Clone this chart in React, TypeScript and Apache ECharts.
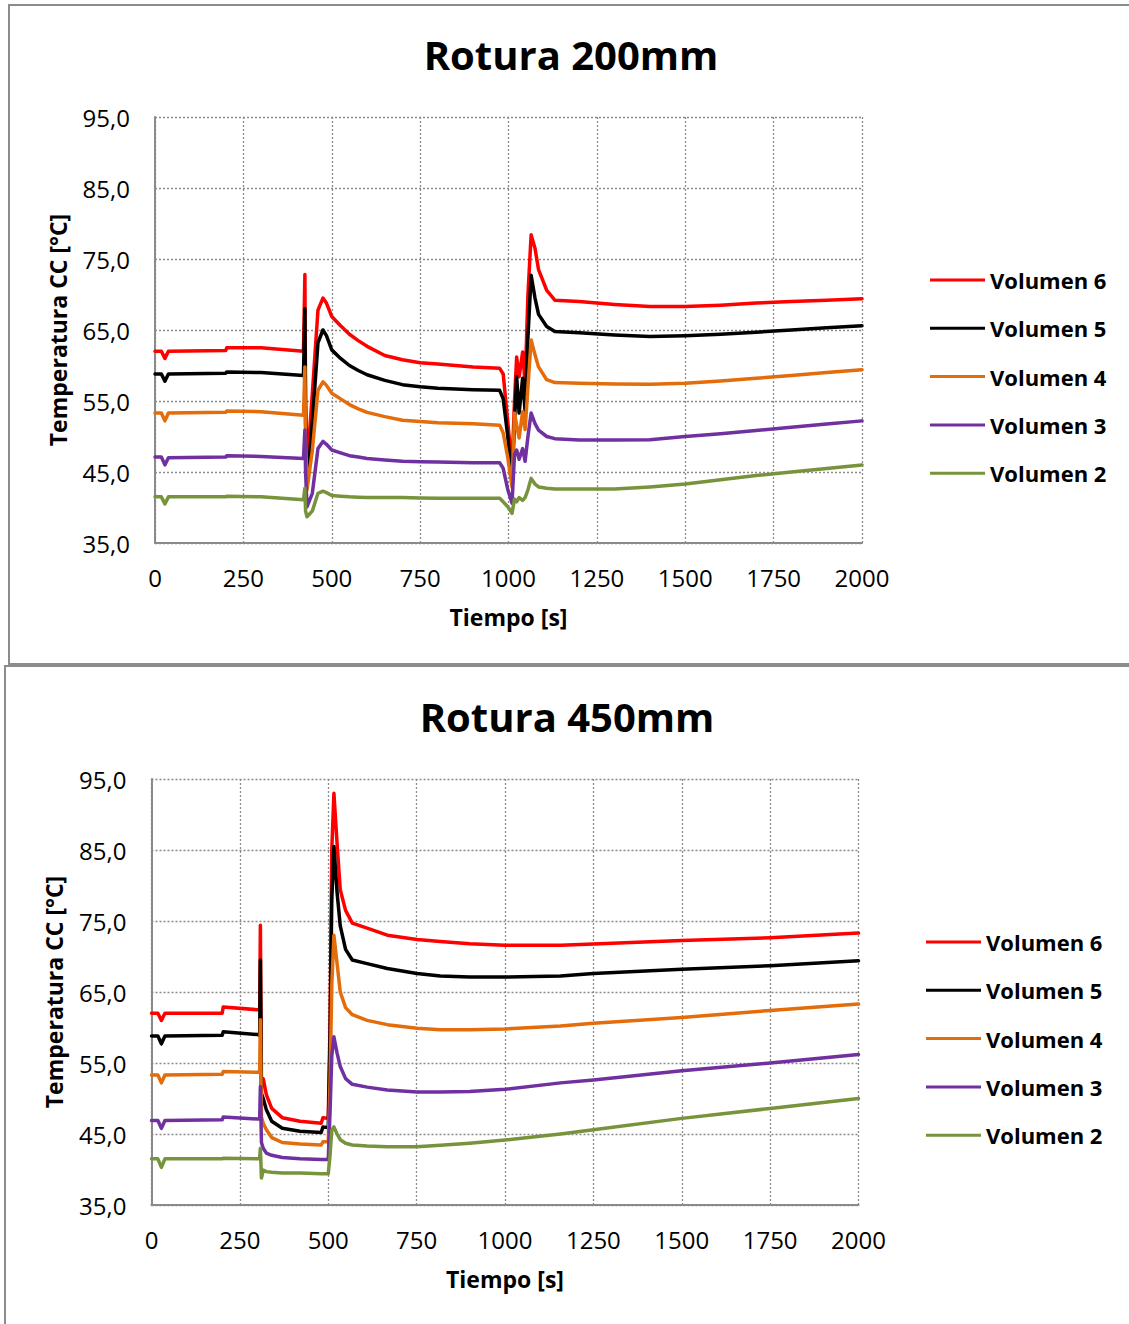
import React, { useEffect, useRef } from "react";
import * as echarts from "echarts";

// ---------- Data: Rotura 200mm ----------
const T200 = [0, 18, 28, 38, 200, 203, 300, 420, 424, 426, 430, 445, 461, 475, 485, 500, 525, 550, 575, 600, 650, 700, 750, 800, 900, 975, 985, 998, 1010, 1017, 1023, 1030, 1040, 1047, 1055, 1064, 1075, 1085, 1108, 1131, 1200, 1300, 1400, 1500, 1600, 1700, 1800, 1900, 2000];
const V6_200 = [62.0, 62.0, 61.0, 62.0, 62.1, 62.5, 62.5, 62.0, 72.8, 55.0, 45.5, 56.0, 67.8, 69.5, 68.8, 66.9, 65.6, 64.4, 63.5, 62.7, 61.4, 60.8, 60.4, 60.2, 59.8, 59.6, 58.8, 52.0, 45.7, 55.0, 61.2, 58.4, 61.9, 57.5, 70.0, 78.4, 76.5, 73.5, 70.6, 69.2, 69.0, 68.6, 68.3, 68.3, 68.5, 68.8, 69.0, 69.2, 69.4];
const V5_200 = [58.8, 58.8, 57.8, 58.8, 58.9, 59.1, 59.0, 58.6, 68.0, 52.0, 43.0, 52.0, 63.2, 65.0, 64.2, 62.2, 61.0, 60.0, 59.3, 58.7, 57.9, 57.3, 57.0, 56.8, 56.6, 56.5, 55.3, 50.0, 43.5, 52.0, 58.4, 53.3, 58.2, 53.5, 64.0, 72.7, 69.5, 67.2, 65.5, 64.8, 64.6, 64.3, 64.1, 64.2, 64.4, 64.7, 65.0, 65.3, 65.6];
const V4_200 = [53.3, 53.3, 52.2, 53.3, 53.4, 53.6, 53.5, 53.0, 59.8, 50.0, 42.5, 48.0, 56.5, 57.7, 57.2, 56.1, 55.3, 54.5, 53.9, 53.4, 52.8, 52.3, 52.1, 51.95, 51.8, 51.6, 50.5, 47.0, 42.9, 53.3, 51.6, 49.8, 53.5, 51.0, 57.0, 63.6, 61.5, 59.8, 58.0, 57.6, 57.5, 57.4, 57.35, 57.5, 57.8, 58.2, 58.6, 59.0, 59.4];
const V3_200 = [47.1, 47.1, 46.0, 47.0, 47.1, 47.3, 47.2, 46.9, 50.9, 45.0, 40.1, 42.0, 48.3, 49.3, 48.9, 48.1, 47.7, 47.3, 47.1, 46.9, 46.7, 46.5, 46.45, 46.4, 46.3, 46.3, 45.5, 42.5, 40.6, 47.5, 48.1, 46.8, 48.3, 46.5, 50.0, 53.3, 51.8, 50.9, 50.0, 49.7, 49.5, 49.5, 49.55, 50.0, 50.4, 50.85, 51.3, 51.75, 52.2];
const V2_200 = [41.5, 41.5, 40.5, 41.5, 41.5, 41.6, 41.5, 41.1, 42.7, 39.5, 38.7, 39.5, 42.0, 42.3, 42.1, 41.7, 41.6, 41.5, 41.45, 41.4, 41.4, 41.4, 41.35, 41.3, 41.3, 41.3, 40.8, 40.1, 39.2, 41.2, 40.8, 41.4, 41.0, 41.4, 42.5, 44.1, 43.3, 42.9, 42.7, 42.6, 42.6, 42.6, 42.9, 43.3, 43.9, 44.5, 45.0, 45.5, 46.0];

// ---------- Data: Rotura 450mm ----------
const T450 = [0, 18, 28, 38, 200, 203, 300, 306, 308, 311, 316, 325, 340, 370, 420, 480, 485, 500, 505, 510, 516, 525, 534, 549, 568, 610, 667, 751, 817, 900, 1000, 1157, 1250, 1500, 1750, 2000];
const V6_450 = [62.0, 62.0, 61.0, 62.0, 62.0, 62.9, 62.5, 62.5, 74.4, 52.0, 52.8, 50.5, 48.6, 47.3, 46.8, 46.5, 47.3, 47.2, 60.0, 85.0, 93.0, 85.9, 79.4, 76.5, 74.7, 74.0, 73.0, 72.4, 72.1, 71.8, 71.6, 71.6, 71.75, 72.25, 72.65, 73.3];
const V5_450 = [58.8, 58.8, 57.7, 58.8, 58.9, 59.4, 59.0, 58.9, 69.5, 50.7, 50.0, 48.4, 46.8, 45.8, 45.4, 45.2, 46.0, 45.9, 58.0, 78.0, 85.5, 79.0, 74.3, 71.0, 69.5, 69.0, 68.3, 67.6, 67.25, 67.1, 67.1, 67.25, 67.6, 68.2, 68.7, 69.4];
const V4_450 = [53.3, 53.3, 52.2, 53.3, 53.4, 53.8, 53.7, 53.7, 61.1, 47.4, 46.5, 45.6, 44.5, 43.8, 43.6, 43.45, 43.9, 43.9, 52.0, 66.0, 73.0, 69.0, 65.0, 62.8, 61.8, 61.0, 60.4, 59.9, 59.7, 59.7, 59.8, 60.2, 60.6, 61.4, 62.4, 63.3];
const V3_450 = [46.9, 46.9, 45.8, 46.9, 47.0, 47.4, 47.1, 47.1, 51.7, 43.8, 43.0, 42.3, 42.0, 41.7, 41.5, 41.4, 41.4, 41.4, 48.0, 56.0, 58.7, 56.4, 54.5, 52.8, 52.0, 51.6, 51.2, 50.9, 50.9, 51.0, 51.3, 52.2, 52.6, 53.9, 55.0, 56.2];
const V2_450 = [41.5, 41.5, 40.3, 41.5, 41.5, 41.6, 41.5, 41.5, 43.0, 38.8, 39.9, 39.7, 39.6, 39.5, 39.5, 39.4, 39.4, 39.4, 42.0, 45.5, 46.0, 45.0, 44.2, 43.7, 43.45, 43.3, 43.2, 43.2, 43.4, 43.7, 44.15, 45.0, 45.6, 47.2, 48.6, 50.0];

const SERIES_NAMES = ["Volumen 6", "Volumen 5", "Volumen 4", "Volumen 3", "Volumen 2"];
const SERIES_COLORS = ["#FF0000", "#000000", "#E46C0A", "#7030A0", "#77933C"];
const X_TICKS = [0, 250, 500, 750, 1000, 1250, 1500, 1750, 2000];
const Y_MIN = 35;
const Y_MAX = 95;

const FONT = "'Open Sans', 'DejaVu Sans', sans-serif";
const GRID_COLOR = "#8a8a8a";

type ChartCfg = {
  title: string;
  times: number[];
  values: number[][];
  top: number;
  height: number;
  grid: { left: number; top: number; width: number; height: number };
  titleX: number;
  titleY: number;
  legendLeft: number;
  legendTop: number;
};

function buildOption(cfg: ChartCfg): any {
  return {
    animation: false,
    backgroundColor: "transparent",
    textStyle: { fontFamily: FONT },
    title: {
      text: cfg.title,
      left: cfg.titleX,
      top: cfg.titleY,
      padding: 0,
      textAlign: "center",
      textVerticalAlign: "middle",
      textStyle: { fontFamily: FONT, fontSize: 40, fontWeight: "bold", color: "#000" },
    },
    legend: {
      orient: "vertical",
      left: cfg.legendLeft,
      top: cfg.legendTop,
      padding: 0,
      icon: "rect",
      itemWidth: 55,
      itemHeight: 3,
      itemGap: 24.3,
      data: SERIES_NAMES,
      textStyle: { fontFamily: FONT, fontSize: 22, fontWeight: "bold", color: "#000", lineHeight: 24 },
    },
    grid: { ...cfg.grid, containLabel: false },
    xAxis: {
      type: "value",
      min: X_TICKS[0],
      max: X_TICKS[X_TICKS.length - 1],
      interval: 250,
      name: "Tiempo [s]",
      nameLocation: "middle",
      nameGap: 62,
      nameTextStyle: { fontFamily: FONT, fontSize: 23, fontWeight: "bold", color: "#000" },
      axisLine: { show: true, lineStyle: { color: GRID_COLOR, width: 2 } },
      axisTick: { show: false },
      axisLabel: {
        fontFamily: FONT,
        fontSize: 24,
        color: "#000",
        margin: 22,
        formatter: (v: number) => String(v),
      },
      splitLine: { show: true, lineStyle: { color: GRID_COLOR, width: 1.3, type: [2, 2] } },
    },
    yAxis: {
      type: "value",
      min: Y_MIN,
      max: Y_MAX,
      interval: 10,
      name: "Temperatura CC [°C]",
      nameLocation: "middle",
      nameGap: 86,
      nameTextStyle: { fontFamily: FONT, fontSize: 23, fontWeight: "bold", color: "#000" },
      axisLine: { show: true, lineStyle: { color: GRID_COLOR, width: 2 } },
      axisTick: { show: false },
      axisLabel: {
        fontFamily: FONT,
        fontSize: 24,
        color: "#000",
        margin: 25,
        formatter: (v: number) => v.toFixed(1).replace(".", ","),
      },
      splitLine: { show: true, lineStyle: { color: GRID_COLOR, width: 1.3, type: [2, 2] } },
    },
    series: SERIES_NAMES.map((name, i) => ({
      name,
      type: "line",
      showSymbol: false,
      symbol: "none",
      color: SERIES_COLORS[i],
      lineStyle: { width: 3.5, color: SERIES_COLORS[i], join: "round", cap: "round" },
      data: cfg.times.map((t, k) => [t, cfg.values[i][k]]),
      z: 2 + i,
    })),
  };
}

function Chart({ cfg }: { cfg: ChartCfg }) {
  const ref = useRef<HTMLDivElement>(null);
  useEffect(() => {
    if (!ref.current) return;
    const chart = echarts.init(ref.current, null, { renderer: "svg" });
    chart.setOption(buildOption(cfg));
    return () => chart.dispose();
  }, [cfg]);
  return (
    <div
      ref={ref}
      style={{ position: "absolute", left: 0, top: cfg.top, width: 1129, height: cfg.height }}
    />
  );
}

const TOP_CFG: ChartCfg = {
  title: "Rotura 200mm",
  times: T200,
  values: [V6_200, V5_200, V4_200, V3_200, V2_200],
  top: 0,
  height: 665,
  grid: { left: 155, top: 117, width: 707, height: 426 },
  titleX: 571,
  titleY: 54,
  legendLeft: 930,
  legendTop: 268,
};

const BOTTOM_CFG: ChartCfg = {
  title: "Rotura 450mm",
  times: T450,
  values: [V6_450, V5_450, V4_450, V3_450, V2_450],
  top: 665,
  height: 659,
  grid: { left: 151.5, top: 114, width: 707, height: 426 },
  titleX: 567,
  titleY: 51,
  legendLeft: 926,
  legendTop: 265,
};

export default function App() {
  return (
    <div
      style={{
        position: "absolute",
        left: 0,
        top: 0,
        width: 1129,
        height: 1324,
        overflow: "hidden",
        background: "#fff",
      }}
    >
      <div
        style={{
          position: "absolute",
          left: 8,
          top: 4,
          width: 1300,
          height: 661,
          border: "2px solid #8c8c8c",
          boxSizing: "border-box",
        }}
      />
      <div
        style={{
          position: "absolute",
          left: 4,
          top: 665,
          width: 1300,
          height: 800,
          border: "2px solid #8c8c8c",
          boxSizing: "border-box",
        }}
      />
      <Chart cfg={TOP_CFG} />
      <Chart cfg={BOTTOM_CFG} />
    </div>
  );
}
